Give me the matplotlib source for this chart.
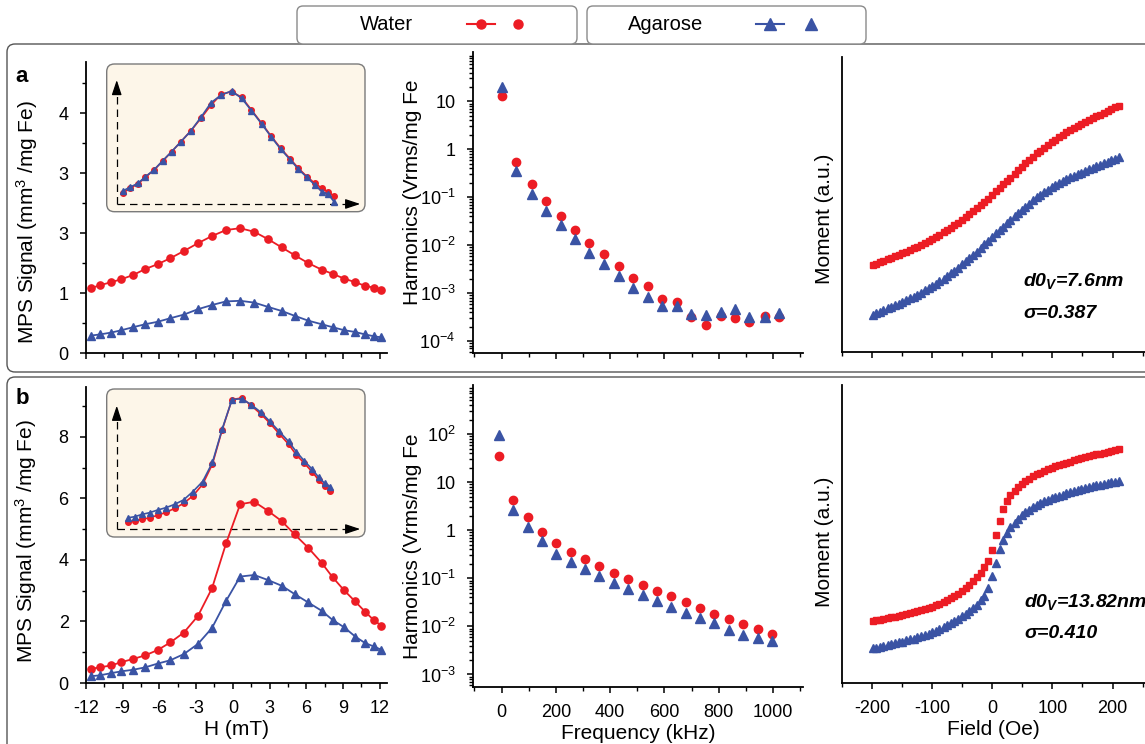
import matplotlib
matplotlib.use("Agg")
import matplotlib.pyplot as plt
from matplotlib.patches import FancyBboxPatch
from matplotlib.lines import Line2D
from matplotlib.transforms import IdentityTransform
from matplotlib.ticker import MultipleLocator, FixedLocator, LogLocator, NullFormatter, NullLocator

plt.rcParams["font.family"] = ["Liberation Sans", "DejaVu Sans"]
plt.rcParams["axes.unicode_minus"] = False
plt.rcParams["mathtext.fontset"] = "custom"
plt.rcParams["mathtext.rm"] = "Liberation Sans"
plt.rcParams["mathtext.it"] = "Liberation Sans:italic:bold"
plt.rcParams["mathtext.bf"] = "Liberation Sans:bold"

# 数据
H_mT = [-11.6, -10.85, -9.95, -9.1, -8.15, -7.15, -6.15, -5.1, -4.0, -2.85, -1.7, -0.55,
        0.6, 1.75, 2.85, 4.0, 5.05, 6.15, 7.25, 8.15, 9.1, 10.0, 10.8, 11.5, 12.15]
a_water = [1.08, 1.13, 1.18, 1.23, 1.30, 1.40, 1.48, 1.58, 1.70, 1.83, 1.95, 2.05,
           2.08, 2.02, 1.90, 1.76, 1.63, 1.50, 1.39, 1.32, 1.24, 1.18, 1.12, 1.09, 1.05]
a_agarose = [0.29, 0.31, 0.34, 0.38, 0.43, 0.48, 0.52, 0.58, 0.64, 0.73, 0.80, 0.86,
             0.87, 0.84, 0.77, 0.70, 0.62, 0.54, 0.48, 0.43, 0.38, 0.35, 0.31, 0.28, 0.26]
a_ytick_labels = ["0", "1", "3", "3", "4"]
a_inset_water = [0.089, 0.124, 0.158, 0.211, 0.268, 0.339, 0.413, 0.492, 0.576, 0.676, 0.782, 0.866,
                 0.887, 0.842, 0.742, 0.637, 0.537, 0.439, 0.353, 0.282, 0.216, 0.163, 0.124, 0.097, 0.063]
a_inset_agarose = [0.105, 0.132, 0.163, 0.216, 0.268, 0.342, 0.413, 0.492, 0.576, 0.684, 0.800, 0.861,
                   0.892, 0.834, 0.737, 0.632, 0.532, 0.432, 0.347, 0.274, 0.211, 0.150, 0.097, 0.079, 0.018]

b_water = [0.46, 0.51, 0.57, 0.68, 0.78, 0.90, 1.07, 1.32, 1.64, 2.18, 3.08, 4.54,
           5.81, 5.89, 5.60, 5.26, 4.83, 4.40, 3.91, 3.44, 3.01, 2.65, 2.32, 2.05, 1.86]
b_agarose = [0.22, 0.25, 0.32, 0.38, 0.43, 0.51, 0.63, 0.74, 0.94, 1.27, 1.79, 2.67,
             3.46, 3.51, 3.35, 3.16, 2.89, 2.62, 2.35, 2.05, 1.81, 1.51, 1.30, 1.19, 1.08]
b_inset_water = [0.058, 0.064, 0.077, 0.090, 0.109, 0.133, 0.164, 0.204, 0.263, 0.355, 0.515, 0.788,
                 1.027, 1.040, 0.981, 0.912, 0.841, 0.756, 0.674, 0.589, 0.523, 0.456, 0.390, 0.342, 0.302]
b_inset_agarose = [0.090, 0.098, 0.117, 0.130, 0.151, 0.170, 0.196, 0.231, 0.297, 0.377, 0.528, 0.793,
                   1.027, 1.034, 0.987, 0.926, 0.854, 0.775, 0.695, 0.615, 0.541, 0.477, 0.411, 0.363, 0.337]

freq_a = [2, 55, 111, 162, 218, 270, 323, 378, 432, 485, 538, 592, 645, 698, 753, 807, 860, 913, 969, 1023]
harm_a_water = [12.9, 0.545, 0.19, 0.084, 0.0415, 0.0212, 0.0112, 0.0064, 0.0037, 0.00209, 0.00142,
                0.00075, 0.00065, 0.00032, 0.000215, 0.000337, 0.000306, 0.000253, 0.000337, 0.000311]
harm_a_agarose = [19.9, 0.348, 0.115, 0.051, 0.0261, 0.0133, 0.0069, 0.00395, 0.00226, 0.00125, 0.000826,
                  0.000537, 0.000537, 0.000372, 0.000348, 0.000396, 0.000457, 0.000311, 0.000311, 0.00038]
harm_a_ticks = [1e1, 1e0, 1e-1, 1e-2, 1e-3, 1e-4]
harm_a_labels = ["10", "1", "$10^{-1}$", "$10^{-2}$", "$10^{-3}$", "$10^{-4}$"]

freq_b = [-10, 43, 96, 148, 200, 254, 307, 360, 414, 467, 520, 572, 625, 678, 729, 784, 837, 890, 944, 997]
harm_b_water = [34.3, 4.24, 1.9, 0.94, 0.54, 0.356, 0.25, 0.182, 0.130, 0.099, 0.0733, 0.0542, 0.042,
                0.0315, 0.0244, 0.0183, 0.0142, 0.0111, 0.00877, 0.0069]
harm_b_agarose = [96.9, 2.62, 1.16, 0.585, 0.324, 0.217, 0.155, 0.111, 0.0794, 0.0596, 0.044, 0.033,
                  0.0252, 0.0192, 0.0149, 0.0115, 0.0085, 0.00668, 0.0057, 0.00486]
harm_b_ticks = [1e2, 1e1, 1e0, 1e-1, 1e-2, 1e-3]
harm_b_labels = ["$10^{2}$", "10", "1", "$10^{-1}$", "$10^{-2}$", "$10^{-3}$"]

field_Oe = [-199, -193, -187, -181, -174, -168, -162, -156, -150, -143, -137, -131, -125, -119,
            -112, -106, -100, -94, -88, -81, -75, -69, -63, -57, -50, -44, -38, -32, -26, -19,
            -13, -7, -1, 6, 12, 18, 24, 30, 37, 43, 49, 55, 61, 68, 74, 80, 86, 92, 99, 105,
            111, 117, 123, 130, 136, 142, 148, 154, 161, 167, 173, 179, 185, 192, 198, 204, 210]
field_ticks = [-200, -100, 0, 100, 200]
field_labels = ["-200", "-100", "0", "100", "200"]
moment_a_water = [2.95, 3.00, 3.05, 3.10, 3.14, 3.19, 3.24, 3.29, 3.34, 3.40, 3.45, 3.51, 3.57, 3.63,
                  3.71, 3.77, 3.84, 3.91, 3.98, 4.07, 4.14, 4.21, 4.30, 4.38, 4.48, 4.58, 4.67, 4.77,
                  4.87, 4.99, 5.10, 5.20, 5.31, 5.45, 5.57, 5.68, 5.80, 5.91, 6.04, 6.16, 6.28, 6.39,
                  6.50, 6.62, 6.73, 6.83, 6.93, 7.02, 7.12, 7.20, 7.28, 7.37, 7.45, 7.53, 7.60, 7.67,
                  7.74, 7.80, 7.87, 7.93, 7.99, 8.05, 8.11, 8.18, 8.23, 8.29, 8.35]
moment_a_agarose = [1.27, 1.32, 1.37, 1.42, 1.48, 1.53, 1.58, 1.64, 1.69, 1.76, 1.82, 1.88, 1.94, 2.01,
                    2.10, 2.17, 2.24, 2.32, 2.40, 2.49, 2.58, 2.67, 2.76, 2.86, 2.98, 3.08, 3.19, 3.29,
                    3.40, 3.54, 3.65, 3.77, 3.89, 4.02, 4.14, 4.25, 4.37, 4.48, 4.61, 4.72, 4.83, 4.93,
                    5.03, 5.15, 5.25, 5.33, 5.42, 5.50, 5.60, 5.67, 5.73, 5.79, 5.85, 5.92, 5.97, 6.03,
                    6.08, 6.13, 6.19, 6.24, 6.29, 6.34, 6.39, 6.45, 6.50, 6.55, 6.60]
moment_b_water = [2.09, 2.11, 2.13, 2.15, 2.18, 2.20, 2.22, 2.25, 2.28, 2.31, 2.34, 2.37, 2.41, 2.44,
                  2.48, 2.52, 2.56, 2.61, 2.66, 2.72, 2.78, 2.84, 2.91, 2.99, 3.09, 3.19, 3.30, 3.42,
                  3.55, 3.70, 3.88, 4.11, 4.47, 4.95, 5.45, 5.83, 6.10, 6.30, 6.45, 6.57, 6.68, 6.77,
                  6.85, 6.93, 7.00, 7.06, 7.12, 7.17, 7.22, 7.27, 7.31, 7.35, 7.39, 7.43, 7.47, 7.51,
                  7.54, 7.57, 7.61, 7.64, 7.67, 7.70, 7.73, 7.76, 7.79, 7.81, 7.84]
moment_b_agarose = [1.16, 1.19, 1.21, 1.24, 1.27, 1.30, 1.33, 1.36, 1.39, 1.43, 1.46, 1.49, 1.53, 1.57,
                    1.61, 1.66, 1.71, 1.76, 1.82, 1.88, 1.95, 2.01, 2.08, 2.16, 2.25, 2.33, 2.42, 2.52,
                    2.63, 2.78, 2.92, 3.18, 3.58, 4.03, 4.48, 4.79, 5.03, 5.22, 5.38, 5.52, 5.63, 5.73,
                    5.82, 5.90, 5.98, 6.05, 6.10, 6.15, 6.21, 6.25, 6.28, 6.32, 6.36, 6.40, 6.43, 6.47,
                    6.50, 6.53, 6.57, 6.60, 6.63, 6.66, 6.69, 6.72, 6.74, 6.76, 6.78]

RED = "#EC1C24"
BLUE = "#3A53A4"
W, H = 1145, 744

fig = plt.figure(figsize=(W / 100, H / 100), dpi=100)


def rect(l, t, r, b):
    return [l / W, 1 - b / H, (r - l) / W, (b - t) / H]


def box(l, t, r, b, face, edge, lw, rad, z):
    p = FancyBboxPatch((l, H - b), r - l, b - t, boxstyle="round,pad=0,rounding_size=%g" % rad,
                       transform=IdentityTransform(), facecolor=face, edgecolor=edge, lw=lw, zorder=z)
    fig.add_artist(p)


def style_axes(ax):
    for s in ["top", "right"]:
        ax.spines[s].set_visible(False)
    for s in ["left", "bottom"]:
        ax.spines[s].set_linewidth(1.3)
    ax.tick_params(which="major", direction="out", length=4.5, width=1.1, pad=8, labelsize=13)
    ax.tick_params(which="minor", direction="out", length=2.6, width=1.0)
    ax.set_facecolor("none")
    ax.set_zorder(3)


# 面板框和图例
box(7, 44, 1160, 372, "none", "#555555", 1.0, 8, 0)
box(7, 377, 1160, 760, "none", "#555555", 1.0, 8, 0)
box(297, 6, 577, 44, "white", "#8a8a8a", 1.0, 6, 1)
box(587, 6, 866, 44, "white", "#8a8a8a", 1.0, 6, 1)
fig.text(386 / W, 1 - 24 / H, "Water", fontsize=14.5, ha="center", va="center")
fig.text(666 / W, 1 - 24 / H, "Agarose", fontsize=14.5, ha="center", va="center")
ly = 1 - 24 / H
fig.add_artist(Line2D([467 / W, 495 / W], [ly, ly], color=RED, lw=1.5))
fig.add_artist(Line2D([481 / W], [ly], color=RED, marker="o", ms=6.5, ls="none"))
fig.add_artist(Line2D([518 / W], [ly], color=RED, marker="o", ms=6.5, ls="none"))
fig.add_artist(Line2D([756 / W, 784 / W], [ly, ly], color=BLUE, lw=1.5))
fig.add_artist(Line2D([770 / W], [ly], color=BLUE, marker="^", ms=8, ls="none"))
fig.add_artist(Line2D([811 / W], [ly], color=BLUE, marker="^", ms=8, ls="none"))


def mps_panel(rc, water, agarose, ymax, yticks, ylabels, yminor, show_x):
    ax = fig.add_axes(rect(*rc))
    style_axes(ax)
    ax.plot(H_mT, water, color=RED, marker="o", ms=5.2, lw=1.3)
    ax.plot(H_mT, agarose, color=BLUE, marker="^", ms=6.2, lw=1.3)
    ax.set_xlim(-12, 12.6)
    ax.set_ylim(0, ymax)
    ax.xaxis.set_major_locator(FixedLocator([-12, -9, -6, -3, 0, 3, 6, 9, 12]))
    ax.xaxis.set_minor_locator(MultipleLocator(1.5))
    ax.yaxis.set_major_locator(FixedLocator(yticks))
    ax.set_yticklabels(ylabels)
    ax.yaxis.set_minor_locator(MultipleLocator(yminor))
    if show_x:
        ax.set_xticklabels(["-12", "-9", "-6", "-3", "0", "3", "6", "9", "12"])
    else:
        ax.set_xticklabels([])
    return ax


def inset_panel(rc, xlim, ylim, water, agarose, x0, ytip, xtip):
    ax = fig.add_axes(rect(*rc))
    ax.axis("off")
    ax.set_zorder(2)
    ax.set_xlim(*xlim)
    ax.set_ylim(*ylim)
    ax.add_patch(FancyBboxPatch((0, 0), 1, 1, boxstyle="round,pad=0,rounding_size=0.03",
                                transform=ax.transAxes, facecolor="#FDF6E9", edgecolor="#7a7a7a",
                                lw=1.0, clip_on=False, zorder=0, mutation_aspect=258 / 148))
    ax.plot([x0, x0], [0, ytip - 0.05], color="k", ls=(0, (6, 4)), lw=0.9)
    ax.plot([x0, xtip - 0.8], [0, 0], color="k", ls=(0, (6, 4)), lw=0.9)
    ax.annotate("", xy=(x0, ytip), xytext=(x0, ytip - 0.1),
                arrowprops=dict(arrowstyle="-|>,head_length=0.9,head_width=0.3", color="k", lw=0.9))
    ax.annotate("", xy=(xtip, 0), xytext=(xtip - 1.5, 0),
                arrowprops=dict(arrowstyle="-|>,head_length=0.9,head_width=0.3", color="k", lw=0.9))
    ax.plot(H_mT, water, color=RED, marker="o", ms=4, lw=1.2, clip_on=False)
    ax.plot(H_mT, agarose, color=BLUE, marker="^", ms=4.8, lw=1.2, clip_on=False)


ax1 = mps_panel((86, 62, 387, 353), a_water, a_agarose, 4.85, [0, 1, 2, 3, 4], a_ytick_labels, 0.5, False)
inset_panel((106.7, 64, 365, 211.7), (-13.47, 15.65), (-0.061, 1.105), a_inset_water, a_inset_agarose,
            -12.34, 1.0, 15.42)
ax4 = mps_panel((86, 387, 387, 683), b_water, b_agarose, 9.62, [0, 2, 4, 6, 8], ["0", "2", "4", "6", "8"], 1, True)
inset_panel((106.7, 389, 365, 537), (-14.14, 16.25), (-0.063, 1.111), b_inset_water, b_inset_agarose,
            -12.96, 1.0, 16.01)
ax4.set_xlabel("H (mT)", fontsize=15, labelpad=2)


def harm_panel(rc, freq, water, agarose, ylim, ticks, labels, show_x):
    ax = fig.add_axes(rect(*rc))
    style_axes(ax)
    ax.set_yscale("log")
    ax.plot(freq, water, color=RED, marker="o", ms=6, ls="none")
    ax.plot(freq, agarose, color=BLUE, marker="^", ms=7, ls="none")
    ax.set_xlim(-105, 1110)
    ax.set_ylim(*ylim)
    ax.yaxis.set_major_locator(FixedLocator(ticks))
    ax.set_yticklabels(labels)
    ax.yaxis.set_minor_locator(LogLocator(base=10, subs=range(2, 10), numticks=20))
    ax.yaxis.set_minor_formatter(NullFormatter())
    ax.xaxis.set_major_locator(FixedLocator([0, 200, 400, 600, 800, 1000]))
    ax.xaxis.set_minor_locator(MultipleLocator(100))
    if not show_x:
        ax.set_xticklabels([])
    return ax


ax2 = harm_panel((473, 52, 803, 353), freq_a, harm_a_water, harm_a_agarose, (10 ** -4.25, 10 ** 2.03),
                 harm_a_ticks, harm_a_labels, False)
ax5 = harm_panel((473, 385, 803, 687), freq_b, harm_b_water, harm_b_agarose, (10 ** -3.26, 10 ** 3.02),
                 harm_b_ticks, harm_b_labels, True)
ax5.set_xlabel("Frequency (kHz)", fontsize=15, labelpad=2)


def moment_panel(rc, water, agarose, show_x):
    ax = fig.add_axes(rect(*rc))
    style_axes(ax)
    ax.plot(field_Oe, water, color=RED, marker="s", ms=4.8, ls="none")
    ax.plot(field_Oe, agarose, color=BLUE, marker="^", ms=5.8, ls="none")
    ax.set_xlim(-250, 254)
    ax.set_ylim(0, 10)
    ax.yaxis.set_major_locator(NullLocator())
    ax.xaxis.set_major_locator(FixedLocator(field_ticks))
    ax.xaxis.set_minor_locator(MultipleLocator(50))
    if show_x:
        ax.set_xticklabels(field_labels)
    else:
        ax.set_xticklabels([])
    return ax


ax3 = moment_panel((842, 57, 1145, 352), moment_a_water, moment_a_agarose, False)
ax6 = moment_panel((842, 385, 1145, 683), moment_b_water, moment_b_agarose, True)
ax6.set_xlabel("Field (Oe)", fontsize=15, labelpad=2)

fig.text(1023 / W, 1 - 286 / H, "d0$_V$=7.6nm", fontsize=14, fontweight="bold", style="italic", va="baseline")
fig.text(1023 / W, 1 - 318 / H, "σ=0.387", fontsize=14, fontweight="bold", style="italic", va="baseline")
fig.text(1024 / W, 1 - 607 / H, "d0$_V$=13.82nm", fontsize=14, fontweight="bold", style="italic", va="baseline")
fig.text(1024 / W, 1 - 638 / H, "σ=0.410", fontsize=14, fontweight="bold", style="italic", va="baseline")

# 坐标轴标题
fig.text(27 / W, 1 - 222 / H, "MPS Signal (mm$^{3}$ /mg Fe)", fontsize=15, rotation=90, ha="center", va="center")
fig.text(26 / W, 1 - 541 / H, "MPS Signal (mm$^{3}$ /mg Fe)", fontsize=15, rotation=90, ha="center", va="center")
fig.text(413 / W, 1 - 192 / H, "Harmonics (Vrms/mg Fe", fontsize=15, rotation=90, ha="center", va="center")
fig.text(413 / W, 1 - 546 / H, "Harmonics (Vrms/mg Fe", fontsize=15, rotation=90, ha="center", va="center")
fig.text(825 / W, 1 - 219 / H, "Moment (a.u.)", fontsize=15, rotation=90, ha="center", va="center")
fig.text(825 / W, 1 - 542 / H, "Moment (a.u.)", fontsize=15, rotation=90, ha="center", va="center")
fig.text(22 / W, 1 - 76 / H, "a", fontsize=16, fontweight="bold", ha="center", va="center", zorder=5)
fig.text(22 / W, 1 - 399 / H, "b", fontsize=16, fontweight="bold", ha="center", va="center", zorder=5)

fig.savefig("out.png", dpi=100)
